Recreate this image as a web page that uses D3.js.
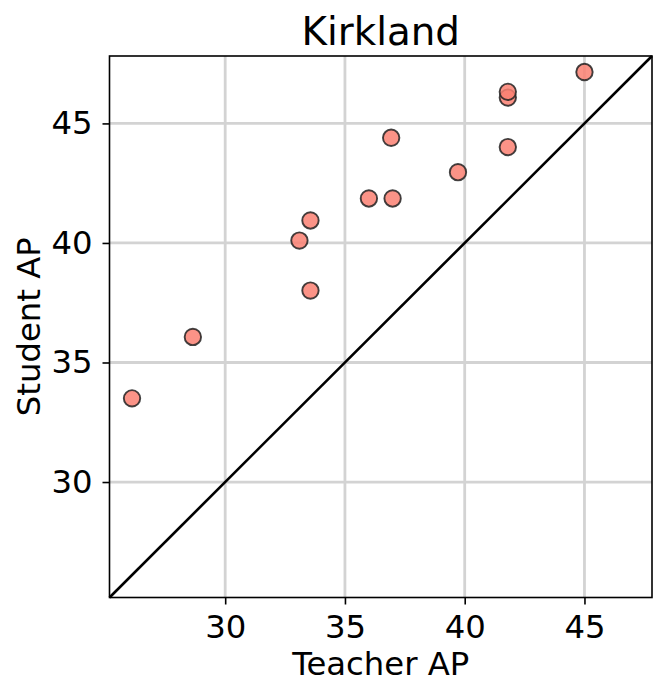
<!DOCTYPE html>
<html>
<head>
<meta charset="utf-8">
<script src="https://cdn.jsdelivr.net/npm/d3@7"></script>
<style>
  html, body { margin: 0; padding: 0; background: #fff; }
  svg { display: block; font-family: "DejaVu Sans", sans-serif; }
</style>
</head>
<body>
<svg id="chart" width="665" height="697"></svg>
<script>
const title = "Kirkland";
const xLabel = "Teacher AP";
const yLabel = "Student AP";
const teacherAP = [26.11, 28.65, 33.10, 33.56, 33.56, 36.00, 36.99, 36.93, 39.72, 41.80, 41.80, 41.80, 45.00];
const studentAP = [33.50, 36.07, 40.10, 40.94, 38.01, 41.86, 41.86, 44.40, 42.96, 44.01, 46.08, 46.32, 47.15];
const axisDomain = [25.17, 47.82];
const tickValues = [30, 35, 40, 45];

const margin = {left: 109.5, right: 13, top: 56, bottom: 99.5};
const W = 665, H = 697;
const svg = d3.select("#chart");

const x = d3.scaleLinear().domain(axisDomain).range([margin.left, W - margin.right]);
const y = d3.scaleLinear().domain(axisDomain).range([H - margin.bottom, margin.top]);

// grid
const grid = svg.append("g");
grid.selectAll("line.gx").data(tickValues).join("line")
  .attr("x1", d => x(d)).attr("x2", d => x(d))
  .attr("y1", y.range()[1]).attr("y2", y.range()[0])
  .attr("stroke", "#d3d3d3").attr("stroke-width", 2.8);
grid.selectAll("line.gy").data(tickValues).join("line")
  .attr("y1", d => y(d)).attr("y2", d => y(d))
  .attr("x1", x.range()[0]).attr("x2", x.range()[1])
  .attr("stroke", "#d3d3d3").attr("stroke-width", 2.8);

// diagonal y = x
svg.append("line")
  .attr("x1", x(axisDomain[0])).attr("y1", y(axisDomain[0]))
  .attr("x2", x(axisDomain[1])).attr("y2", y(axisDomain[1]))
  .attr("stroke", "#000").attr("stroke-width", 2.6);

// points
svg.append("g").selectAll("circle").data(teacherAP.map((t, i) => [t, studentAP[i]])).join("circle")
  .attr("cx", d => x(d[0])).attr("cy", d => y(d[1]))
  .attr("r", 8.2)
  .attr("fill", "#fa8072").attr("fill-opacity", 0.85)
  .attr("stroke", "#222").attr("stroke-opacity", 0.85).attr("stroke-width", 1.9);

// frame
svg.append("rect")
  .attr("x", x.range()[0]).attr("y", y.range()[1])
  .attr("width", x.range()[1] - x.range()[0]).attr("height", y.range()[0] - y.range()[1])
  .attr("fill", "none").attr("stroke", "#000").attr("stroke-width", 1.6);

// axes
const xAxis = svg.append("g").attr("transform", `translate(0,${y.range()[0]})`)
  .call(d3.axisBottom(x).tickValues(tickValues).tickSize(7).tickPadding(11).tickFormat(d3.format("d")));
const yAxis = svg.append("g").attr("transform", `translate(${x.range()[0]},0)`)
  .call(d3.axisLeft(y).tickValues(tickValues).tickSize(7).tickPadding(10).tickFormat(d3.format("d")));
[xAxis, yAxis].forEach(a => {
  a.select(".domain").remove();
  a.selectAll(".tick line").attr("stroke", "#000").attr("stroke-width", 1.6);
  a.selectAll(".tick text").attr("fill", "#000").attr("font-size", 32.3).attr("font-family", "DejaVu Sans");
});

svg.append("text").attr("x", (x.range()[0] + x.range()[1]) / 2).attr("y", 675)
  .attr("text-anchor", "middle").attr("font-size", 32.3).text(xLabel);
svg.append("text").attr("transform", `translate(40,${(y.range()[0] + y.range()[1]) / 2}) rotate(-90)`)
  .attr("text-anchor", "middle").attr("font-size", 32.3).text(yLabel);
svg.append("text").attr("x", (x.range()[0] + x.range()[1]) / 2).attr("y", 45)
  .attr("text-anchor", "middle").attr("font-size", 38.8).text(title);
</script>
</body>
</html>
